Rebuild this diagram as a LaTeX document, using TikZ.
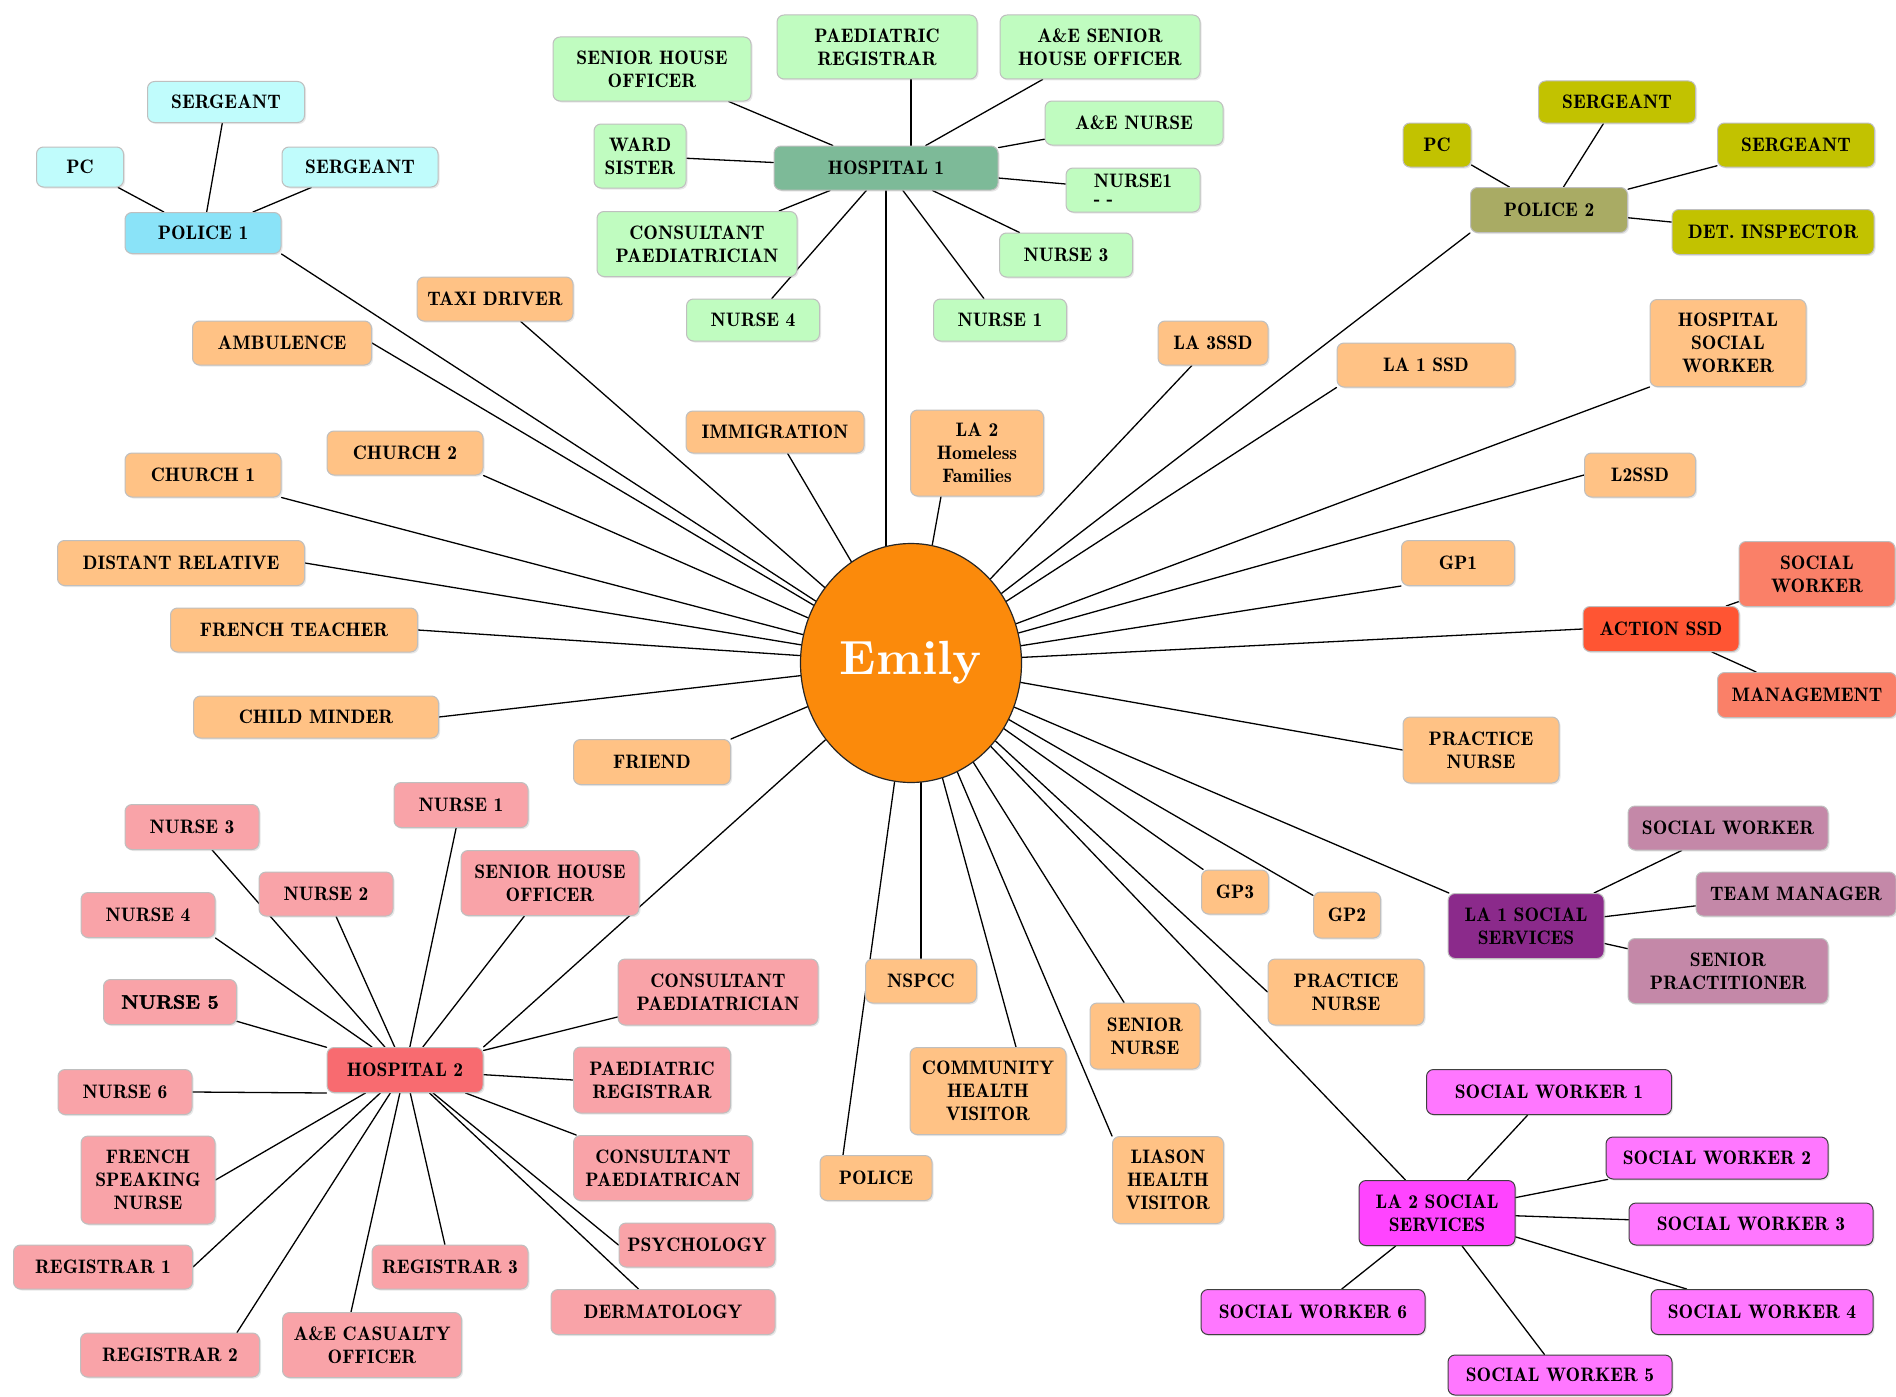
\documentclass[tikz,border=0pt]{standalone}
\usepackage{fontspec}
\setmainfont{lmromandemi10-regular}[Extension=.otf,BoldFont=lmroman10-bold,BoldFeatures={FakeBold=2}]
\newfontfamily\emilyfont{lmroman10-bold}[Extension=.otf]
\usetikzlibrary{shapes.geometric,backgrounds,shadows}
\definecolor{orangebox}{HTML}{FFC285}
\definecolor{emilyor}{HTML}{FB8A0B}
\definecolor{cyanlt}{HTML}{C0FCFC}
\definecolor{cyanmd}{HTML}{8AE3F8}
\definecolor{greenlt}{HTML}{C0FCC0}
\definecolor{greenmd}{HTML}{7DBA98}
\definecolor{olivelt}{HTML}{C2C200}
\definecolor{olivemd}{HTML}{A9AB64}
\definecolor{salmonlt}{HTML}{FA8068}
\definecolor{redmd}{HTML}{FF5533}
\definecolor{mauvelt}{HTML}{C488A8}
\definecolor{purplemd}{HTML}{8B2A8B}
\definecolor{magentalt}{HTML}{FF77FF}
\definecolor{magentamd}{HTML}{FF44FF}
\definecolor{pinklt}{HTML}{F9A3A8}
\definecolor{pinkmd}{HTML}{F86B70}
\tikzstyle{every path}=[line width=1.3pt,line cap=round,line join=round]
\tikzstyle{box}=[rectangle,rounded corners=7pt,draw=black!25,line width=1pt,align=center,inner sep=1pt,
  drop shadow={shadow xshift=1.5pt,shadow yshift=-1.5pt,opacity=0.18},font=\fontsize{19.5}{23}\selectfont]
\tikzset{sz/.style 2 args={minimum width=#1,minimum height=#2}}
\tikzstyle{org}=[box,fill=orangebox]
\tikzstyle{pol}=[box,fill=cyanlt]
\tikzstyle{hos}=[box,fill=greenlt]
\tikzstyle{olv}=[box,fill=olivelt]
\tikzstyle{sal}=[box,fill=salmonlt]
\tikzstyle{mau}=[box,fill=mauvelt]
\tikzstyle{mag}=[box,fill=magentalt,draw=black!75]
\tikzstyle{pnk}=[box,fill=pinklt]

\begin{document}
\begin{tikzpicture}[x=1pt,y=-1pt]
  \useasboundingbox (0,0) rectangle (1896,1397);
  % centre
  \node[ellipse,draw=black!85,line width=1.2pt,fill=emilyor,minimum width=221,minimum height=239,inner sep=0pt,text=white,font=\emilyfont\fontsize{48}{48}\selectfont] (emily) at (911,663) {Emily};
  % police 1
  \node[pol,sz={157}{41}] (p1s1) at (226,102) {SERGEANT};
  \node[pol,sz={87}{40}] (p1pc) at (80,167) {PC};
  \node[pol,sz={156}{40}] (p1s2) at (360,167) {SERGEANT};
  \node[box,fill=cyanmd,sz={156}{41}] (p1) at (203,233) {POLICE 1};
  % hospital 1
  \node[hos,sz={198}{64}] (h1sho) at (652,69) {SENIOR HOUSE\\OFFICER};
  \node[hos,sz={200}{64}] (h1preg) at (877,47) {PAEDIATRIC\\REGISTRAR};
  \node[hos,sz={200}{64}] (h1ae) at (1100,47) {A\&E SENIOR\\HOUSE OFFICER};
  \node[hos,sz={178}{44}] (h1aen) at (1134,123) {A\&E NURSE};
  \node[hos,sz={92}{64}] (h1ws) at (640,156) {WARD\\SISTER};
  \node[box,fill=greenmd,sz={224}{44}] (h1) at (886,168) {HOSPITAL 1};
  \node[hos,sz={134}{44},align=left] (h1n1b) at (1133,190) {NURSE1\\[-5pt]- -};
  \node[hos,sz={200}{65}] (h1cp) at (697,244) {CONSULTANT\\PAEDIATRICIAN};
  \node[hos,sz={133}{44}] (h1n3) at (1066,255) {NURSE 3};
  \node[hos,sz={133}{42}] (h1n4) at (753,320) {NURSE 4};
  \node[hos,sz={133}{42}] (h1n1) at (1000,320) {NURSE 1};
  % police 2
  \node[olv,sz={157}{42}] (p2s1) at (1617,102) {SERGEANT};
  \node[olv,sz={68}{44}] (p2pc) at (1437,145) {PC};
  \node[olv,sz={157}{44}] (p2s2) at (1796,145) {SERGEANT};
  \node[box,fill=olivemd,sz={157}{45}] (p2) at (1549,210) {POLICE 2};
  \node[olv,sz={202}{45}] (p2di) at (1773,232) {DET. INSPECTOR};
  % single contacts
  \node[org,sz={156}{44}] (taxi) at (495,299) {TAXI DRIVER};
  \node[org,sz={179}{44}] (amb) at (282,343) {AMBULENCE};
  \node[org,sz={110}{44}] (la3) at (1213,343) {LA 3SSD};
  \node[org,sz={178}{44}] (la1ssd) at (1426,365) {LA 1 SSD};
  \node[org,sz={156}{87}] (hsw) at (1728,343) {HOSPITAL\\SOCIAL\\WORKER};
  \node[org,sz={178}{42}] (imm) at (775,432) {IMMIGRATION};
  \node[org,sz={133}{86}] (lahf) at (977,453) {LA 2\\Homeless\\Families};
  \node[org,sz={156}{44}] (ch2) at (405,453) {CHURCH 2};
  \node[org,sz={156}{44}] (ch1) at (203,475) {CHURCH 1};
  \node[org,sz={111}{44}] (l2ssd) at (1640,475) {L2SSD};
  \node[org,sz={247}{45}] (rel) at (181,563) {DISTANT RELATIVE};
  \node[org,sz={113}{45}] (gp1) at (1458,563) {GP1};
  \node[org,sz={247}{44}] (ft) at (294,630) {FRENCH TEACHER};
  \node[org,sz={245}{42}] (cm) at (316,717) {CHILD MINDER};
  \node[org,sz={157}{45}] (friend) at (652,762) {FRIEND};
  \node[org,sz={156}{66}] (pn1) at (1481,750) {PRACTICE\\NURSE};
  \node[org,sz={67}{44}] (gp3) at (1235,892) {GP3};
  \node[org,sz={67}{46}] (gp2) at (1347,915) {GP2};
  \node[org,sz={156}{66}] (pn2) at (1346,992) {PRACTICE\\NURSE};
  \node[org,sz={111}{44}] (nspcc) at (921,981) {NSPCC};
  \node[org,sz={110}{66}] (sn) at (1145,1036) {SENIOR\\NURSE};
  \node[org,sz={156}{87}] (chv) at (988,1091) {COMMUNITY\\HEALTH\\VISITOR};
  \node[org,sz={112}{45}] (pol) at (876,1178) {POLICE};
  \node[org,sz={111}{87}] (lhv) at (1168,1180) {LIASON\\HEALTH\\VISITOR};
  \coordinate (chvtop) at ([xshift=28pt]chv.north);
  \coordinate (poltop) at ([xshift=-33pt]pol.north);
  \coordinate (lahfbot) at ([xshift=-36pt]lahf.south);
  % action ssd
  \node[sal,sz={156}{65}] (asw) at (1817,574) {SOCIAL\\WORKER};
  \node[box,fill=redmd,sz={156}{45}] (act) at (1661,629) {ACTION SSD};
  \node[sal,sz={179}{45}] (amg) at (1807,695) {MANAGEMENT};
  % la 1 social services
  \node[mau,sz={200}{44}] (l1sw) at (1728,828) {SOCIAL WORKER};
  \node[mau,sz={200}{44}] (l1tm) at (1796,894) {TEAM MANAGER};
  \node[box,fill=purplemd,sz={156}{65}] (la1) at (1526,926) {LA 1 SOCIAL\\SERVICES};
  \node[mau,sz={200}{65}] (l1sp) at (1728,971) {SENIOR\\PRACTITIONER};
  % la 2 social services
  \node[mag,sz={245}{45}] (sw1) at (1549,1092) {SOCIAL WORKER 1};
  \node[mag,sz={222}{42}] (sw2) at (1717,1158) {SOCIAL WORKER 2};
  \node[mag,fill=magentamd,sz={156}{65}] (la2) at (1437,1213) {LA 2 SOCIAL\\SERVICES};
  \node[mag,sz={244}{42}] (sw3) at (1751,1224) {SOCIAL WORKER 3};
  \node[mag,sz={224}{45}] (sw6) at (1313,1312) {SOCIAL WORKER 6};
  \node[mag,sz={222}{45}] (sw4) at (1762,1312) {SOCIAL WORKER 4};
  \node[mag,sz={224}{40}] (sw5) at (1560,1375) {SOCIAL WORKER 5};
  % hospital 2
  \node[pnk,sz={134}{45}] (h2n1) at (461,805) {NURSE 1};
  \node[pnk,sz={134}{45}] (h2n3) at (192,827) {NURSE 3};
  \node[pnk,sz={178}{65}] (h2sho) at (550,883) {SENIOR HOUSE\\OFFICER};
  \node[pnk,sz={134}{44}] (h2n2) at (326,894) {NURSE 2};
  \node[pnk,sz={134}{45}] (h2n4) at (148,915) {NURSE 4};
  \node[pnk,sz={200}{66}] (h2cp) at (718,992) {CONSULTANT\\PAEDIATRICIAN};
  \node[pnk,sz={133}{45}] (h2n5) at (170,1002) {\bfseries NURSE 5};
  \node[box,fill=pinkmd,sz={156}{45}] (h2) at (405,1070) {HOSPITAL 2};
  \node[pnk,sz={157}{66}] (h2preg) at (652,1080) {PAEDIATRIC\\REGISTRAR};
  \node[pnk,sz={134}{45}] (h2n6) at (125,1092) {NURSE 6};
  \node[pnk,sz={134}{88}] (h2fsn) at (148,1180) {FRENCH\\SPEAKING\\NURSE};
  \node[pnk,sz={179}{65}] (h2cp2) at (663,1168) {CONSULTANT\\PAEDIATRICAN};
  \node[pnk,sz={156}{44}] (h2psy) at (697,1245) {PSYCHOLOGY};
  \node[pnk,sz={179}{44}] (h2r1) at (103,1267) {REGISTRAR 1};
  \node[pnk,sz={156}{44}] (h2r3) at (450,1267) {REGISTRAR 3};
  \node[pnk,sz={224}{45}] (h2derm) at (663,1312) {DERMATOLOGY};
  \node[pnk,sz={179}{44}] (h2r2) at (170,1355) {REGISTRAR 2};
  \node[pnk,sz={179}{65}] (h2ae) at (372,1345) {A\&E CASUALTY\\OFFICER};
  \coordinate (r2top) at ([xshift=-23pt]h2r2.north east);
  \coordinate (aetop) at ([xshift=-21pt]h2ae.north);
  % connectors
  \begin{scope}[on background layer]
    \fill[white] (0,0) rectangle (1896,1397);
    \foreach \n in {p1.south east,p2.south west,taxi,amb.east,la3,la1ssd.south west,hsw.south west,imm,lahfbot,ch2.south east,ch1.south east,l2ssd.west,rel.east,gp1.south west,ft.east,cm.east,friend.north east,act.west,pn1.west,gp3,gp2,pn2.west,la1,la2,sn,chvtop,lhv.north west,poltop,h2.north east}
      \draw (emily) -- (\n);
    \draw (h1) -- (h1 |- emily) (nspcc) -- (nspcc |- emily)
      (emily |- h1) -- (emily |- h1preg);
    \foreach \a/\b in {p1/p1s1,p1/p1pc,p1/p1s2,
      h1/h1sho,h1/h1ae,h1/h1aen,h1/h1ws,h1/h1n1b,h1/h1cp,h1/h1n3,h1/h1n4,h1/h1n1,
      p2/p2s1,p2/p2pc,p2/p2s2,p2/p2di,act/asw,act/amg,la1/l1sw,la1/l1tm,la1/l1sp,
      la2/sw1,la2/sw2,la2/sw3,la2/sw4,la2/sw5,la2/sw6,
      h2/h2n1,h2/h2n3,h2/h2sho,h2/h2n2,h2/h2n4.south east,h2/h2cp,h2/h2n5,h2/h2preg.west,h2.south west/h2n6.east,
      h2/h2fsn.east,h2/h2cp2,h2/h2psy.west,h2/h2r1.east,h2/h2r3,h2/h2derm,h2/r2top,h2/aetop}
      \draw (\a) -- (\b);
  \end{scope}
\end{tikzpicture}
\end{document}
